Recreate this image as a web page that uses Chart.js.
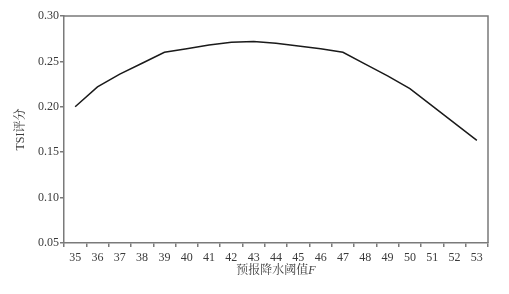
<!DOCTYPE html>
<html>
<head>
<meta charset="utf-8">
<script src="https://cdn.jsdelivr.net/npm/chart.js@4/dist/chart.umd.min.js"></script>
<style>
  html, body { margin: 0; padding: 0; background: #fff; }
  #wrap { width: 509px; height: 294px; }
</style>
</head>
<body>
<div id="wrap"><canvas id="chartTS" width="509" height="294"></canvas></div>
<script>
// --- datos ---
const umbrales = ['35', '36', '37', '38', '39', '40', '41', '42', '43', '44',
                  '45', '46', '47', '48', '49', '50', '51', '52', '53'];
const tsValores = [0.200, 0.222, 0.236, 0.248, 0.260, 0.264, 0.268, 0.271, 0.272, 0.270,
                   0.267, 0.264, 0.260, 0.247, 0.234, 0.220, 0.201, 0.182, 0.163];
const yTicks = [0.05, 0.10, 0.15, 0.20, 0.25, 0.30];

const colores = {
    linea: '#1a1a1a',
    eje: '#7a7a7a',
    texto: '#3a3a3a'
};
const fuente = "'Liberation Serif', 'Noto Serif CJK SC', 'Noto Sans CJK SC', serif";

// marco superior/derecho + título del eje X con F en cursiva
const marcoPlugin = {
    id: 'marco',
    afterDraw(chart) {
        const { ctx, chartArea: a } = chart;
        ctx.save();
        ctx.strokeStyle = colores.eje;
        ctx.lineWidth = 1.5;
        ctx.beginPath();
        ctx.moveTo(a.left, a.top);
        ctx.lineTo(a.right, a.top);
        ctx.lineTo(a.right, a.bottom);
        ctx.stroke();

        const parte1 = '预报降水阈值';
        const parte2 = 'F';
        ctx.fillStyle = colores.texto;
        ctx.textBaseline = 'middle';
        ctx.font = "12px " + fuente;
        const w1 = ctx.measureText(parte1).width;
        ctx.font = "italic 12px " + fuente;
        const w2 = ctx.measureText(parte2).width;
        let x = (a.left + a.right) / 2 - (w1 + w2) / 2;
        const y = 271;
        ctx.font = "12px " + fuente;
        ctx.fillText(parte1, x, y);
        ctx.font = "italic 12px " + fuente;
        ctx.fillText(parte2, x + w1, y);
        ctx.restore();
    }
};

new Chart(document.getElementById('chartTS').getContext('2d'), {
    type: 'line',
    data: {
        labels: umbrales,
        datasets: [{
            label: 'TS',
            data: tsValores,
            borderColor: colores.linea,
            borderWidth: 1.5,
            pointRadius: 0,
            tension: 0,
            fill: false
        }]
    },
    options: {
        responsive: false,
        animation: false,
        devicePixelRatio: 1,
        layout: { padding: { left: 14, top: 16, right: 21, bottom: 0 } },
        plugins: {
            legend: { display: false },
            tooltip: { enabled: false }
        },
        scales: {
            x: {
                offset: true,
                border: { color: colores.eje, width: 1.5 },
                grid: { offset: true, drawOnChartArea: false, drawTicks: true, tickLength: 4, color: colores.eje, lineWidth: 1.5 },
                ticks: { color: colores.texto, font: { family: fuente, size: 12 }, padding: 4, maxRotation: 0, autoSkip: false },
                afterFit(scale) { scale.height = 51; }
            },
            y: {
                min: 0.05,
                max: 0.30,
                afterBuildTicks(scale) { scale.ticks = yTicks.map(v => ({ value: v })); },
                border: { color: colores.eje, width: 1.5 },
                grid: { drawOnChartArea: false, drawTicks: true, tickLength: 4, color: colores.eje, lineWidth: 1.5 },
                ticks: {
                    color: colores.texto,
                    font: { family: fuente, size: 12 },
                    padding: 1,
                    callback: v => v.toFixed(2)
                },
                title: {
                    display: true,
                    text: 'TSI评分',
                    color: colores.texto,
                    font: { family: fuente, size: 12 },
                    padding: { top: 0, bottom: 0 }
                },
                afterFit(scale) { scale.width = 50; }
            }
        }
    },
    plugins: [marcoPlugin]
});
</script>
</body>
</html>
